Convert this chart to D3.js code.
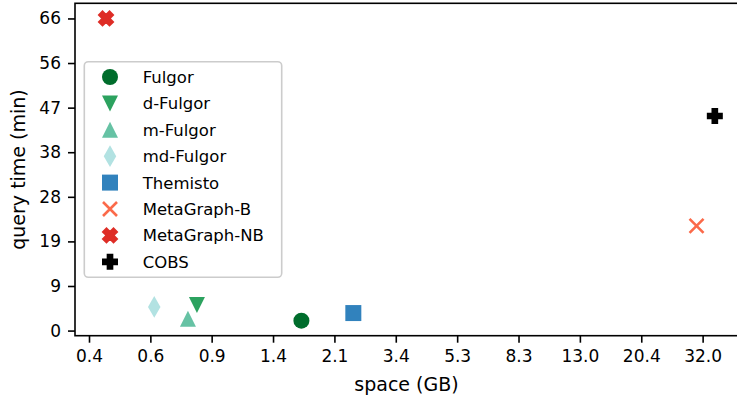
<!DOCTYPE html>
<html><head><meta charset="utf-8">
<script src="https://cdn.jsdelivr.net/npm/d3@7"></script>
<style>
body{margin:0;background:#fff}
svg{display:block}
text{font-family:"DejaVu Sans",sans-serif;fill:#000}
</style>
</head><body>
<svg id="c" width="737" height="400"></svg>
<script>
// ---- data ----
const tools  = ["Fulgor","d-Fulgor","m-Fulgor","md-Fulgor","Themisto","MetaGraph-B","MetaGraph-NB","COBS"];
const spaceGB = [1.68, 0.78, 0.73, 0.57, 2.46, 30.6, 0.40, 35.0];
const queryMin = [2.1, 5.4, 2.5, 5.0, 3.7, 22.1, 65.9, 45.3];
const colors = ["#006d2c","#2ca25f","#66c2a4","#b2e2e2","#3182bd","#fb6a4a","#de2d26","#000000"];
const shapes = ["o","v","^","d","s","x","X","P"];
const xTicks = [0.353, 0.554, 0.869, 1.364, 2.141, 3.360, 5.274, 8.277, 12.99, 20.39, 32.0];
const yTicks = [0, 9.414, 18.83, 28.24, 37.66, 47.07, 56.49, 65.9];

// ---- layout ----
const L = 75, R = 739, T = 3.3, B = 335.7;
const svg = d3.select("#c");
const x = d3.scaleLog().domain([0.3185, 41.8]).range([L, R]);
const y = d3.scaleLinear().domain([-1.08, 69.1]).range([B, T]);

function markerPath(k, s){
  const h = s/2;
  switch(k){
    case "o": return `M${h},0A${h},${h} 0 1,1 ${-h},0A${h},${h} 0 1,1 ${h},0Z`;
    case "v": return `M${-h},${-h}L${h},${-h}L0,${h}Z`;
    case "^": return `M0,${-h}L${h},${h}L${-h},${h}Z`;
    case "s": return `M${-h},${-h}H${h}V${h}H${-h}Z`;
    case "d": { const hh = s*0.68, hw = s*0.39; return `M0,${-hh}L${hw},0L0,${hh}L${-hw},0Z`; }
    case "x": return `M${-h},${-h}L${h},${h}M${-h},${h}L${h},${-h}`;
    case "X": { const u=s/4; const p=[[-1,-2],[0,-1],[1,-2],[2,-1],[1,0],[2,1],[1,2],[0,1],[-1,2],[-2,1],[-1,0],[-2,-1]];
      return "M"+p.map(q=>`${q[0]*u},${q[1]*u}`).join("L")+"Z"; }
    case "P": { const u=s/6; const p=[[-1,-3],[1,-3],[1,-1],[3,-1],[3,1],[1,1],[1,3],[-1,3],[-1,1],[-3,1],[-3,-1],[-1,-1]];
      return "M"+p.map(q=>`${q[0]*u},${q[1]*u}`).join("L")+"Z"; }
  }
}
function drawMarker(g, k, c){
  if (k === "x") {
    g.append("path").attr("d", markerPath(k, 14)).attr("fill","none")
     .attr("stroke", c).attr("stroke-width", 2.6);
  } else if (k === "X" || k === "P") {
    g.append("path").attr("d", markerPath(k, 14)).attr("fill", c)
     .attr("stroke", c).attr("stroke-width", 2).attr("stroke-linejoin","miter");
  } else {
    g.append("path").attr("d", markerPath(k, 16)).attr("fill", c);
  }
}

// axes
const xAxis = d3.axisBottom(x).tickValues(xTicks).tickFormat(d3.format(".1f"))
  .tickSize(7).tickSizeOuter(0).tickPadding(7);
const gx = svg.append("g").attr("transform", `translate(0,${B})`).call(xAxis);
const yAxis = d3.axisLeft(y).tickValues(yTicks).tickFormat(d3.format(".0f"))
  .tickSize(7).tickSizeOuter(0).tickPadding(7);
const gy = svg.append("g").attr("transform", `translate(${L},0)`).call(yAxis);
[gx, gy].forEach(g => {
  g.select(".domain").remove();
  g.selectAll(".tick line").attr("stroke", "#000").attr("stroke-width", 1.6);
  g.selectAll(".tick text").attr("font-size", 17).attr("font-family", "DejaVu Sans").attr("fill", "#000");
});

// frame
svg.append("rect").attr("x", L).attr("y", T).attr("width", R - L).attr("height", B - T)
  .attr("fill", "none").attr("stroke", "#000").attr("stroke-width", 1.6);

// axis labels
svg.append("text").attr("x", (L + 738) / 2).attr("y", 390.5).attr("text-anchor", "middle")
  .attr("font-size", 19).text("space (GB)");
svg.append("text").attr("transform", `translate(25,${(T + B) / 2}) rotate(-90)`)
  .attr("text-anchor", "middle").attr("font-size", 19).text("query time (min)");

// points
const pts = svg.append("g");
tools.forEach((t, i) => {
  const g = pts.append("g").attr("transform", `translate(${x(spaceGB[i])},${y(queryMin[i])})`);
  drawMarker(g, shapes[i], colors[i]);
});

// legend
const lg = svg.append("g");
lg.append("rect").attr("x", 84.3).attr("y", 61.7).attr("width", 197.4).attr("height", 215.6)
  .attr("rx", 4).attr("fill", "#fff").attr("fill-opacity", 0.8)
  .attr("stroke", "#cccccc").attr("stroke-width", 1.6);
tools.forEach((t, i) => {
  const yy = 77 + i * 26.4;
  const g = lg.append("g").attr("transform", `translate(110,${yy})`);
  drawMarker(g, shapes[i], colors[i]);
  lg.append("text").attr("x", 142.7).attr("y", yy).attr("dy", "0.36em")
    .attr("font-size", 16.5).text(t);
});
</script>
</body></html>
